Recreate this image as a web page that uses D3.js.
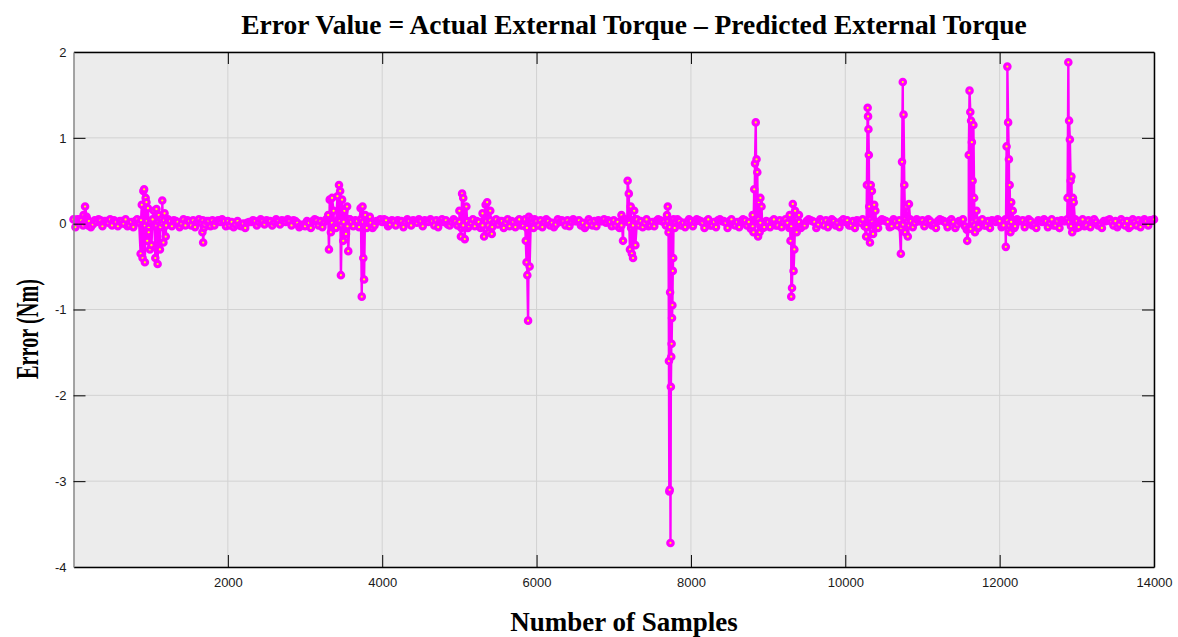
<!DOCTYPE html>
<html>
<head>
<meta charset="utf-8">
<script src="https://cdn.jsdelivr.net/npm/d3@7"></script>
<style>
  body { margin: 0; background: #fff; }
  svg { display: block; }
</style>
</head>
<body>
<svg id="chart"></svg>
<script>
// baseline error, one value every 50 samples (0 .. 14000)
const baseStep = 50;
const baseValues = [
  0.05,0.05,0.04,0.02,0.03,-0.01,0.02,0.04,0.03,0.01,-0.02,0.02,0.03,0.00,-0.03,0.02,0.03,0.01,-0.02,0.03,
  0.02,-0.03,0.03,0.01,-0.02,0.03,0.04,0.02,0.00,-0.02,0.03,0.04,0.02,0.01,-0.01,0.03,0.04,0.03,0.02,0.03,
  0.03,0.02,-0.01,-0.02,0.00,0.01,0.02,0.03,0.02,0.03,0.04,0.03,0.02,0.03,0.04,0.02,0.03,0.04,0.01,-0.02,
  -0.03,0.01,0.03,0.04,0.03,0.02,0.04,0.01,-0.02,0.03,0.02,-0.03,0.02,0.04,-0.04,0.02,0.03,0.01,-0.02,0.03,
  0.02,0.04,-0.01,0.03,0.04,0.03,0.02,0.03,0.04,0.01,0.03,0.04,0.02,0.03,0.04,0.03,0.02,-0.01,0.02,0.03,
  0.02,-0.02,0.03,0.01,-0.03,0.02,-0.02,0.03,0.04,0.02,-0.01,0.03,0.01,-0.03,0.02,0.03,-0.02,0.03,0.04,0.02,
  0.03,0.04,0.02,0.03,0.01,-0.01,0.02,0.03,0.04,0.02,0.03,0.04,0.01,-0.02,0.02,0.03,0.04,0.03,0.01,0.02,
  0.04,0.02,-0.02,0.03,0.01,-0.02,0.02,0.03,0.01,-0.03,0.02,0.03,0.04,0.02,0.03,0.04,0.02,0.03,0.01,0.02,
  0.03,0.02,0.04,0.01,0.03,-0.02,0.02,0.04,0.03,0.01,0.03,-0.01,0.02,0.03,0.04,0.02,-0.03,0.03,0.01,-0.04,
  0.02,0.03,-0.02,0.04,0.02,0.01,-0.03,0.03,0.02,-0.02,0.03,0.04,0.02,-0.01,0.03,0.04,0.02,0.03,0.01,0.03,
  0.02,-0.02,0.03,0.04,0.01,-0.03,0.03,0.02,-0.02,0.03,0.04,0.02,-0.03,0.03,0.04,-0.01,0.02,0.03,0.01,0.03,
  0.04,0.02,0.03,-0.02,0.03,0.04,0.01,0.03,0.02,-0.01,0.03,-0.03,-0.06,0.02,0.04,0.03,-0.02,0.03,0.04,0.02,
  0.03,-0.02,0.04,0.02,-0.03,0.03,0.04,0.02,0.03,-0.02,0.04,0.02,0.03,0.01,-0.02,0.03,0.04,0.03,0.02,0.04,
  0.03,0.02,-0.03,0.04,0.03,0.02,-0.02,0.03,0.04,0.02,0.03,-0.01,0.02,0.03,-0.03,0.02,0.04,0.03,0.03,0.04,
  0.05
];
// in-between baseline samples (25, 75, 125 ... 13975)
const baseValuesB = [
  -0.04,0.05,-0.02,0.05,-0.04,0.04,0.05,-0.03,0.03,0.05,0.04,-0.03,0.03,0.05,-0.02,-0.04,0.05,0.04,-0.02,-0.05,
  0.05,-0.02,-0.04,0.04,0.05,-0.03,0.03,-0.04,0.05,0.04,-0.02,-0.04,0.05,0.04,0.03,-0.03,-0.02,0.04,0.05,-0.03,
  -0.02,-0.04,0.03,-0.03,-0.05,0.02,0.04,-0.02,0.05,-0.01,0.03,-0.02,0.05,-0.01,0.03,0.05,-0.02,0.03,-0.04,-0.01,
  0.03,-0.05,0.05,-0.02,-0.04,0.05,0.03,-0.05,0.04,-0.02,-0.04,0.05,-0.03,0.03,0.05,-0.04,0.05,-0.05,0.03,0.05,
  0.05,-0.03,0.04,-0.02,0.03,-0.04,0.05,-0.02,0.03,0.05,-0.03,0.03,0.05,-0.02,-0.04,0.05,0.04,-0.02,0.05,-0.02,
  -0.05,0.04,-0.03,0.05,0.03,-0.05,0.05,-0.02,-0.04,0.05,0.03,-0.05,0.05,0.03,-0.04,0.05,-0.02,-0.05,0.03,0.05,
  -0.02,-0.04,0.05,-0.02,-0.04,0.05,0.04,-0.02,-0.03,0.05,0.03,-0.02,-0.05,0.05,-0.02,-0.03,0.03,0.05,0.04,-0.03,
  -0.02,-0.05,0.05,0.03,-0.05,0.05,-0.02,-0.04,0.05,-0.02,-0.03,0.05,0.03,-0.02,-0.04,0.04,0.05,-0.02,-0.04,0.05,
  -0.03,0.05,0.03,-0.05,0.05,-0.02,-0.04,0.05,0.03,-0.05,0.05,-0.02,-0.04,0.05,-0.02,-0.06,0.03,0.05,-0.05,0.03,
  -0.04,0.05,-0.02,-0.04,0.05,-0.05,0.03,0.05,-0.05,-0.02,0.05,0.03,-0.05,0.05,-0.02,-0.04,0.05,-0.02,-0.04,0.05,
  0.04,-0.02,-0.05,0.03,0.05,-0.04,0.05,-0.02,-0.05,0.05,0.03,-0.04,0.05,-0.02,-0.05,0.05,-0.02,-0.04,0.05,0.03,
  -0.03,0.05,-0.02,-0.05,0.05,0.03,-0.04,0.05,-0.05,0.03,0.05,-0.07,-0.06,-0.02,-0.04,0.05,-0.02,-0.05,0.03,0.05,
  -0.04,0.05,-0.02,-0.05,0.05,0.03,-0.04,0.05,-0.02,-0.05,0.03,0.05,-0.04,0.05,-0.02,-0.05,0.03,0.05,-0.03,0.03,
  -0.04,0.05,-0.02,-0.04,0.05,-0.02,-0.05,0.03,0.05,-0.02,-0.04,0.05,-0.02,-0.05,0.05,-0.02,-0.04,0.05,-0.02,0.04
];

// bursts / spikes
const eventSamples = [
  130,150,170,190,
  870,885,895,905,915,925,935,945,955,965,975,990,1010,1040,1060,1075,1090,1105,1120,1135,1150,1165,1180,1195,
  1670,1680,1690,
  3300,3310,3320,3335,3350,3370,3400,3420,3440,3455,3465,3480,3495,3510,3530,3545,3560,3580,
  3720,3735,3745,3755,3765,3780,3800,3840,
  5000,5020,5035,5050,5070,5090,5110,5300,5320,5340,5360,5380,5400,5420,
  5850,5860,5870,5880,5890,5900,5910,5930,5960,
  7100,7120,7150,7180,7195,7210,7220,7235,7250,7265,7280,7300,
  7690,7700,7710,7715,7720,7725,7730,7735,7740,7745,7750,7755,7760,7765,7770,7775,7790,
  8800,8810,8820,8830,8840,8850,8860,8870,8880,8890,8900,8915,8930,
  9280,9290,9300,9310,9320,9330,9340,9350,9370,9400,
  10270,10280,10290,10295,10300,10305,10310,10320,10330,10345,10360,10375,10390,10410,
  10720,10735,10745,10755,10765,10775,10790,10810,10825,10840,
  11580,11600,11610,11620,11630,11640,11650,11660,11670,11680,11700,11720,
  12080,12090,12100,12110,12120,12130,12140,12150,12170,12190,
  12880,12890,12900,12910,12920,12930,12940,12950,12960,12980,13000
];
const eventValues = [
  0.1,0.2,0.08,-0.02,
  -0.35,0.22,-0.4,0.38,0.4,-0.45,0.3,0.25,-0.2,0.18,-0.1,-0.3,-0.25,0.15,-0.4,0.17,-0.47,0.1,-0.3,0.05,0.27,-0.22,0.12,-0.15,
  -0.1,-0.22,-0.05,
  0.1,-0.3,0.28,-0.1,0.3,0.15,-0.05,0.32,0.45,0.38,-0.6,0.28,-0.2,0.15,-0.12,0.2,-0.32,0.05,
  0.18,-0.85,0.2,-0.4,-0.65,0.1,-0.05,0.08,
  0.15,-0.15,0.35,0.3,-0.18,0.2,-0.05,0.12,-0.15,0.22,0.25,-0.1,0.15,-0.12,
  0.05,-0.2,-0.45,-0.6,-1.13,0.08,-0.5,0.05,-0.05,
  0.1,-0.2,0.05,0.5,0.35,-0.3,0.2,-0.35,-0.4,0.15,-0.25,0.05,
  0.1,0.2,-0.1,-1.6,-3.12,-3.1,-0.8,-3.72,-1.9,-1.55,-1.4,-1.1,-0.95,-0.55,-0.4,0.05,-0.05,
  0.1,-0.1,0.4,0.7,1.18,0.75,0.6,-0.15,0.25,-0.1,0.3,0.2,-0.05,
  0.1,-0.2,-0.85,-0.75,0.23,-0.55,-0.3,0.15,-0.1,0.1,
  -0.15,0.45,1.35,1.25,1.1,0.8,0.2,-0.22,0.45,0.38,-0.12,0.22,0.15,-0.05,
  -0.35,0.72,1.65,1.27,0.45,-0.1,0.2,-0.15,0.23,0.05,
  -0.2,0.8,1.55,1.3,1.2,0.95,0.5,1.15,0.3,-0.1,0.15,-0.05,
  -0.27,0.9,1.83,1.18,0.75,0.45,-0.1,0.25,0.15,-0.05,
  0.3,1.88,1.2,0.98,0.5,0.55,-0.1,0.3,0.25,0.05,-0.05
];

const xTicks = [2000, 4000, 6000, 8000, 10000, 12000, 14000];
const yTicks = [-4, -3, -2, -1, 0, 1, 2];

const points = baseValues.map((v, i) => ({ s: i * baseStep, v: v }))
  .concat(baseValuesB.map((v, i) => ({ s: i * baseStep + baseStep / 2, v: v })))
  .concat(eventSamples.map((s, i) => ({ s: s, v: eventValues[i] })))
  .sort((a, b) => a.s - b.s);

const width = 1178, height = 637;
const margin = { top: 52, right: 24, bottom: 70, left: 73.5 };
const iw = width - margin.left - margin.right;
const ih = height - margin.top - margin.bottom;

const svg = d3.select("#chart").attr("width", width).attr("height", height);
const g = svg.append("g").attr("transform", `translate(${margin.left},${margin.top})`);

const x = d3.scaleLinear().domain([0, 14000]).range([0, iw]);
const y = d3.scaleLinear().domain([-4, 2]).range([ih, 0]);

// plot background
g.append("rect").attr("width", iw).attr("height", ih).attr("fill", "#ececec");

// grid
g.selectAll(".gx").data(xTicks).enter().append("line")
  .attr("x1", d => x(d)).attr("x2", d => x(d)).attr("y1", 0).attr("y2", ih)
  .attr("stroke", "#d2d2d2").attr("stroke-width", 1);
g.selectAll(".gy").data(yTicks).enter().append("line")
  .attr("x1", 0).attr("x2", iw).attr("y1", d => y(d)).attr("y2", d => y(d))
  .attr("stroke", "#d2d2d2").attr("stroke-width", 1);

// the error trace
const line = d3.line().x(d => x(d.s)).y(d => y(d.v));
g.append("path").datum(points)
  .attr("d", line)
  .attr("fill", "none")
  .attr("stroke", "#ff00ff")
  .attr("stroke-width", 2.4);

g.selectAll(".pt").data(points).enter().append("circle")
  .attr("cx", d => x(d.s)).attr("cy", d => y(d.v))
  .attr("r", 2.7)
  .attr("fill", "#ffff00")
  .attr("stroke", "#ff00ff")
  .attr("stroke-width", 3.2);

// axes (ticks inside, box)
const tickLen = 12;
const fmt = d => String(d);
const xAxis = g.append("g").attr("transform", `translate(0,${ih})`)
  .call(d3.axisBottom(x).tickValues(xTicks).tickSizeInner(-tickLen).tickSizeOuter(0).tickPadding(11).tickFormat(fmt));
const xAxisTop = g.append("g")
  .call(d3.axisTop(x).tickValues(xTicks).tickSizeInner(-tickLen).tickSizeOuter(0).tickFormat(""));
const yAxis = g.append("g")
  .call(d3.axisLeft(y).tickValues(yTicks).tickSizeInner(-tickLen).tickSizeOuter(0).tickPadding(7).tickFormat(fmt));
const yAxisRight = g.append("g").attr("transform", `translate(${iw},0)`)
  .call(d3.axisRight(y).tickValues(yTicks).tickSizeInner(-tickLen).tickSizeOuter(0).tickFormat(""));

[xAxis, xAxisTop, yAxis, yAxisRight].forEach(a => {
  a.attr("font-family", "Liberation Sans, Arial, sans-serif").attr("font-size", 13);
  a.selectAll("text").attr("fill", "#1a1a1a");
  a.selectAll(".tick line").attr("stroke", "#000");
  a.select(".domain").attr("stroke", "#000").attr("stroke-width", 1.5);
});
yAxis.select(".domain").attr("stroke", "#888").attr("stroke-width", 1.5);
xAxis.selectAll(".tick").filter(d => d === 14000).select("line").remove();
xAxisTop.selectAll(".tick").filter(d => d === 14000).select("line").remove();
yAxis.selectAll(".tick").filter(d => d === 2 || d === -4).select("line").remove();
yAxisRight.selectAll(".tick").filter(d => d === 2 || d === -4).select("line").remove();

// titles
const serif = "Liberation Serif, Times New Roman, serif";
svg.append("text")
  .attr("x", 634).attr("y", 34)
  .attr("text-anchor", "middle")
  .style("font-family", serif)
  .style("font-weight", "bold").style("font-size", "27.5px")
  .text("Error Value = Actual External Torque \u2013 Predicted External Torque");

svg.append("text")
  .attr("x", 624).attr("y", 631)
  .attr("text-anchor", "middle")
  .style("font-family", serif)
  .style("font-weight", "bold").style("font-size", "27px")
  .text("Number of Samples");

svg.append("text")
  .attr("transform", "translate(38,329) rotate(-90)")
  .attr("text-anchor", "middle")
  .attr("textLength", 100)
  .attr("lengthAdjust", "spacingAndGlyphs")
  .style("font-family", serif)
  .style("font-weight", "bold").style("font-size", "32px")
  .text("Error (Nm)");
</script>
</body>
</html>
